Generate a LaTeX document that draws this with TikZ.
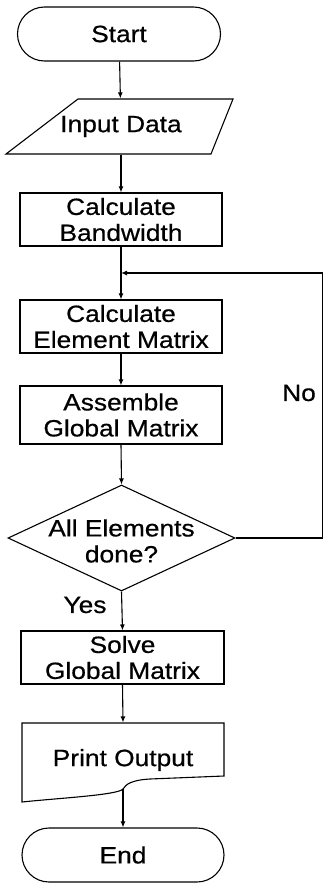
\documentclass[tikz,border=0pt]{standalone}
\usepackage{fontspec}
\setmainfont{Liberation Sans}[FakeStretch=1.12,FakeBold=0.6]
\usetikzlibrary{shapes.geometric,shapes.misc,arrows.meta}
\begin{document}
\begin{tikzpicture}[x=1pt,y=-1pt,
  font=\fontsize{23.5}{26}\selectfont,
  line width=1.1pt,
  arr/.style={-{Latex[length=6pt,width=5pt]}},
  term/.style={draw, rounded rectangle, minimum width=203pt, minimum height=54pt, inner sep=0pt},
  proc/.style={draw, rectangle, minimum width=202pt, minimum height=53pt, align=center, inner sep=0pt},
  plain/.style={inner sep=0pt, align=center}]
\useasboundingbox (0,0) rectangle (324,883);

% Start
\node[term] (start) at (119,34) {Start};

% Input Data (parallelogram)
\draw (78,99) -- (233,99) -- (211,154) -- (6,154) -- cycle;
\node[plain, minimum height=55pt, minimum width=150pt] (input) at (121,126.5) {Input Data};

% Processes
\node[proc] (bw) at (121,219.5) {Calculate\\Bandwidth};
\node[proc] (elem) at (121,326.5) {Calculate\\Element Matrix};
\node[proc, minimum height=58pt] (asm) at (121,415) {Assemble\\Global Matrix};

% Decision
\node[draw, diamond, minimum width=227pt, minimum height=106pt, inner sep=0pt] (dec) at (121.5,538) {};
\node[plain] (dectext) at (121.5,541) {All Elements\\done?};

\node[proc, minimum width=203pt] (solve) at (122.5,657.5) {Solve\\Global Matrix};

% Print Output (document)
\draw (22,723) -- (224,723) -- (224,776) -- (150,779)
  .. controls (132,780) and (126,784) .. (123,789)
  .. controls (118,795) and (60,798) .. (22,802) -- cycle;
\node[plain, minimum height=74pt, minimum width=150pt] (print) at (123,760) {Print Output};
\coordinate (pout) at (123,789);

% End
\node[term, minimum width=202pt] (end) at (123,855) {End};

% Labels
\node[plain] (yes) at (85,605) {Yes};
\node[plain] (no) at (299,393) {No};

% Connectors
\draw[arr] (start) -- (input);
\draw[arr] (input) -- (bw);
\draw[arr] (bw) -- (elem);
\draw[arr] (elem) -- (asm);
\draw[arr] (asm.south) -- (dec.north);
\draw[arr] (dec.south) -- (solve.north);
\draw[arr] (solve.south) -- (print.north);
\draw[arr] (pout) -- (end.north);

\coordinate (rc) at (322.5,273);
\coordinate (join) at (121,273);
\draw[arr] (dec.east) -| (rc) -- (join);
\end{tikzpicture}
\end{document}
